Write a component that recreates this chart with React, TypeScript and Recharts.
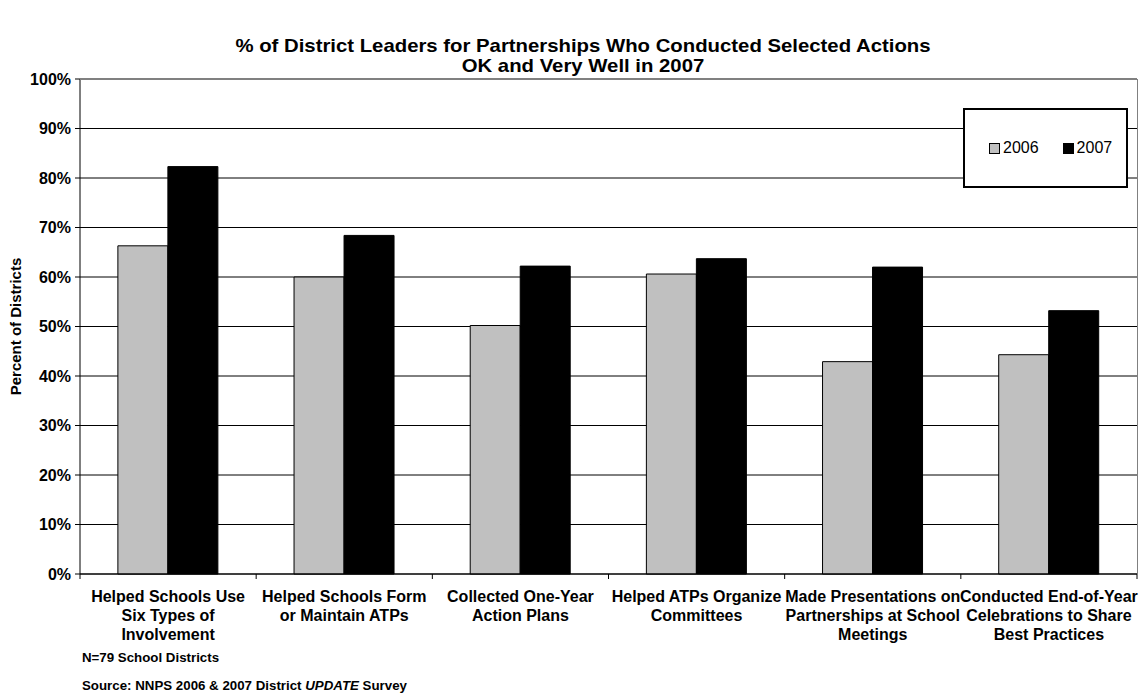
import React from 'react';
import { BarChart, Bar, XAxis, YAxis, CartesianGrid } from 'recharts';

const categories: string[][] = [
  ['Helped Schools Use', 'Six Types of', 'Involvement'],
  ['Helped Schools Form', 'or Maintain ATPs'],
  ['Collected One-Year', 'Action Plans'],
  ['Helped ATPs Organize', 'Committees'],
  ['Made Presentations on', 'Partnerships at School', 'Meetings'],
  ['Conducted End-of-Year', 'Celebrations to Share', 'Best Practices'],
];
const values2006 = [0.663, 0.600, 0.502, 0.606, 0.429, 0.443];
const values2007 = [0.823, 0.684, 0.622, 0.637, 0.620, 0.532];
const yTicks = [0, 0.1, 0.2, 0.3, 0.4, 0.5, 0.6, 0.7, 0.8, 0.9, 1.0];
const seriesNames = ['2006', '2007'];
const seriesColors = ['#C0C0C0', '#000000'];

const data = categories.map((c, i) => ({
  name: c.join(' '),
  y2006: values2006[i],
  y2007: values2007[i],
}));

const FONT = 'Arial, "Liberation Sans", sans-serif';

const XTick = (props: any) => {
  const { x, y, payload, index } = props;
  const i = payload.index ?? index;
  const lines = categories[i] || [];
  const half = payload.offset || 0;
  const top = y - 8;
  return (
    <g>
      <line x1={x - half} x2={x - half} y1={top} y2={top + 5} stroke="#000" />
      {i === categories.length - 1 && (
        <line x1={x + half} x2={x + half} y1={top} y2={top + 5} stroke="#000" />
      )}
      <text x={x} y={y + 20} textAnchor="middle" fontFamily={FONT} fontSize={16} fontWeight="bold" fill="#000">
        {lines.map((l, k) => (
          <tspan key={k} x={x} dy={k === 0 ? 0 : 19}>{l}</tspan>
        ))}
      </text>
    </g>
  );
};

export default function App() {
  return (
    <div style={{ position: 'absolute', left: 0, top: 0, width: 1148, height: 698, background: '#fff', fontFamily: FONT }}>
      <div style={{ position: 'absolute', left: 0, top: 36, width: 1166, textAlign: 'center', fontSize: 19, fontWeight: 'bold', lineHeight: '20px', color: '#000', transform: 'scaleX(1.07)', transformOrigin: '583px 0' }}>
        % of District Leaders for Partnerships Who Conducted Selected Actions<br />OK and Very Well in 2007
      </div>
      <BarChart
        width={1148}
        height={698}
        data={data}
        margin={{ top: 79, right: 11, bottom: 0, left: 0 }}
        barCategoryGap="21.5%"
        barGap={0}
      >
        <CartesianGrid horizontal vertical={false} stroke="#000" strokeWidth={1} />
        <XAxis
          dataKey="name"
          interval={0}
          tickLine={false}
          axisLine={{ stroke: '#000' }}
          tick={<XTick />}
          height={124}
        />
        <YAxis
          width={80}
          domain={[0, 1]}
          ticks={yTicks}
          interval={0}
          tickFormatter={(v: number) => `${Math.round(v * 100)}%`}
          tickLine={{ stroke: '#000' }}
          tickSize={5}
          tickMargin={4}
          axisLine={{ stroke: '#000' }}
          tick={{ fontFamily: FONT, fontSize: 16, fontWeight: 'bold', fill: '#000' }}
          label={{ value: 'Percent of Districts', angle: -90, position: 'insideLeft', offset: 16, style: { fontFamily: FONT, fontSize: 15, fontWeight: 'bold', fill: '#000', textAnchor: 'middle' } }}
        />
        <Bar dataKey="y2006" name={seriesNames[0]} fill={seriesColors[0]} stroke="#000" strokeWidth={1} isAnimationActive={false} />
        <Bar dataKey="y2007" name={seriesNames[1]} fill={seriesColors[1]} stroke="#000" strokeWidth={1} isAnimationActive={false} />
      </BarChart>
      <svg width={1148} height={698} style={{ position: 'absolute', left: 0, top: 0, pointerEvents: 'none' }}>
        <line x1={80} x2={1137} y1={79.5} y2={79.5} stroke="#808080" />
        <line x1={1137.5} x2={1137.5} y1={79} y2={574} stroke="#808080" />
      </svg>
      <div style={{
        position: 'absolute', left: 963, top: 108, width: 165, height: 80, border: '2px solid #000', boxSizing: 'border-box',
        display: 'flex', alignItems: 'center', fontSize: 16, color: '#000', background: '#fff',
      }}>
        {seriesNames.map((n, i) => (
          <React.Fragment key={n}>
            <span style={{ display: 'inline-block', width: 9, height: 9, background: seriesColors[i], border: '1px solid #000', marginLeft: 24, marginRight: 3 }} />
            <span>{n}</span>
          </React.Fragment>
        ))}
      </div>
      <div style={{ position: 'absolute', left: 82, top: 650, fontSize: 13.3, fontWeight: 'bold', color: '#000' }}>N=79 School Districts</div>
      <div style={{ position: 'absolute', left: 82, top: 678, fontSize: 13.3, fontWeight: 'bold', color: '#000' }}>
        Source: NNPS 2006 &amp; 2007 District <i>UPDATE</i> Survey
      </div>
    </div>
  );
}
